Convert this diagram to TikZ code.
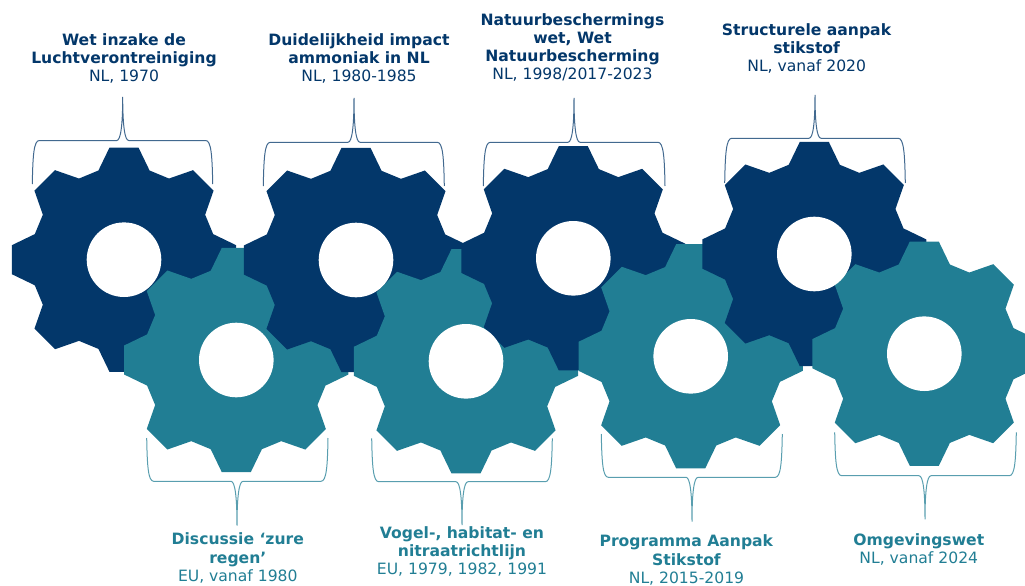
\documentclass[tikz,border=0pt]{standalone}
\usepackage{fontspec}
\setmainfont{DejaVu Sans}
\definecolor{darkgear}{HTML}{03376A}
\definecolor{tealgear}{HTML}{217E94}
\tikzset{
    label text/.style={anchor=south,align=center,inner sep=0pt,
        font=\fontsize{15.6}{18.3}\selectfont},
    brace line/.style={line width=1pt,opacity=.75}
}

\begin{document}
\begin{tikzpicture} [x=1pt,y=-1pt]
    \useasboundingbox (0,0) rectangle (1025,586);

    % gears, each one over the one before
    \foreach \cx/\cy/\col in {124/259.7/darkgear, 236.3/360/tealgear, 356/260/darkgear, 466/361.3/tealgear,
                              573.3/258.3/darkgear, 690.7/356.3/tealgear, 814.3/254/darkgear, 924.3/353.7/tealgear} {
        \fill[\col,shift={(\cx,\cy)}] (-16:92.8)
            \foreach \a in {0,45,...,315} {
                -- ({\a-16}:92.8) -- ({\a-7.4}:113) -- ({\a+7.4}:113) -- ({\a+16}:92.8)
            } -- cycle;
    }

    % holes
    \foreach \cx/\cy in {124/259.7, 236.3/360, 356/260, 466/361.3, 573.3/258.3, 690.7/356.3, 814.3/254, 924.3/353.7}
        \fill[white] (\cx,\cy) circle [radius=37.3];

    % braces: left, right, tip x, base y, bar y, tip y
    \foreach \xl/\xr/\xm/\yb/\ym/\yt/\col [count=\i] in {
            32.3/212.7/122.7/184/140.5/97/darkgear, 263.3/444.3/354/186/142.3/98/darkgear,
            483.3/665/574/186/142.3/98/darkgear, 724.7/905.3/815/183/138.3/95/darkgear,
            146.7/328/237/438/481.3/525.7/tealgear, 371.7/552.3/462/438.3/481.7/525/tealgear,
            601.3/782.3/692/434/477.3/521.7/tealgear, 834.7/1016.3/925/432.3/475.7/519.3/tealgear} {
        \coordinate (tip\i) at (\xm,\yt);
        \draw[brace line,\col] (\xl,\yb) .. controls (\xl+.5,{\ym+.35*(\yb-\ym)}) and (\xl+1.5,\ym) .. (\xl+7,\ym)
            -- (\xm-6,\ym) .. controls (\xm-2,\ym) and (\xm,{\ym+.35*(\yt-\ym)}) .. (tip\i)
            .. controls (\xm,{\ym+.35*(\yt-\ym)}) and (\xm+2,\ym) .. (\xm+6,\ym)
            -- (\xr-7,\ym) .. controls (\xr-1.5,\ym) and (\xr-.5,{\ym+.35*(\yb-\ym)}) .. (\xr,\yb);
    }

    % labels
    \node[label text,text=darkgear] (wet) at (124,84)
        {\textbf{Wet inzake de}\\\textbf{Luchtverontreiniging}\\NL, 1970};
    \node[label text,text=darkgear] (ammoniak) at (359,84)
        {\textbf{Duidelijkheid impact}\\\textbf{ammoniak in NL}\\NL, 1980-1985};
    \node[label text,text=darkgear] (natuur) at (572.5,82)
        {\textbf{Natuurbeschermings}\\\textbf{wet, Wet}\\\textbf{Natuurbescherming}\\NL, 1998/2017-2023};
    \node[label text,text=darkgear] (stikstof) at (806.7,74)
        {\textbf{Structurele aanpak}\\\textbf{stikstof}\\NL, vanaf 2020};
    \node[label text,text=tealgear] (zure) at (237.8,583.5)
        {\textbf{Discussie ‘zure}\\\textbf{regen’}\\EU, vanaf 1980};
    \node[label text,text=tealgear] (vogel) at (462,577)
        {\textbf{Vogel-, habitat- en}\\\textbf{nitraatrichtlijn}\\EU, 1979, 1982, 1991};
    \node[label text,text=tealgear] (programma) at (686.5,585.5)
        {\textbf{Programma Aanpak}\\\textbf{Stikstof}\\NL, 2015-2019};
    \node[label text,text=tealgear] (omgeving) at (918.8,565.5)
        {\textbf{Omgevingswet}\\NL, vanaf 2024};

\end{tikzpicture}
\end{document}
